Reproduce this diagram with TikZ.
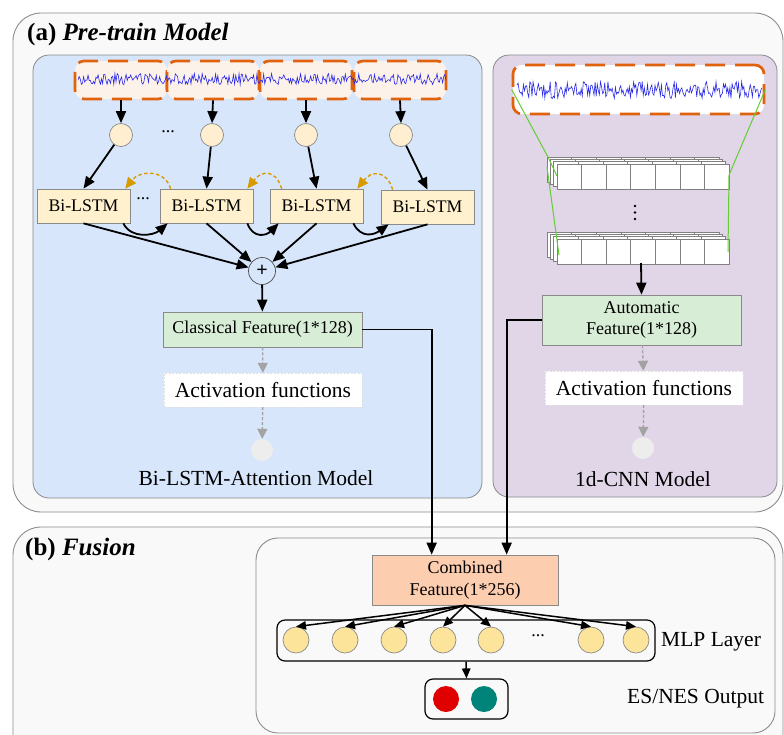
\documentclass[tikz,border=0pt]{standalone}
\usepackage{fontspec}
\setmainfont{Liberation Serif}
\usetikzlibrary{arrows.meta,calc}
\definecolor{panelfill}{HTML}{F9F9F9}
\definecolor{paneldraw}{HTML}{8C8C8C}
\definecolor{bluefill}{HTML}{D7E6FA}
\definecolor{purplefill}{HTML}{E1D5E8}
\definecolor{lstmfill}{HTML}{FFF1CE}
\definecolor{incfill}{HTML}{FFEFD0}
\definecolor{featfill}{HTML}{D8EDD6}
\definecolor{combfill}{HTML}{FDCDB0}
\definecolor{mlpfill}{HTML}{FDE49B}
\definecolor{outred}{HTML}{E00000}
\definecolor{outteal}{HTML}{008379}
\definecolor{sigorange}{HTML}{E0620D}
\definecolor{sigfill}{HTML}{FDF2EA}
\definecolor{sigblue}{HTML}{2828E8}
\definecolor{cnngreen}{HTML}{66CC33}
\definecolor{recurr}{HTML}{D79B00}
\definecolor{grayarr}{HTML}{A3A3A3}
\definecolor{boxline}{HTML}{8A8A8A}
\begin{document}
\begin{tikzpicture}[x=1pt,y=-1pt,
 every node/.append style={inner sep=0pt},
 lstm/.style={draw=boxline, fill=lstmfill, line width=0.7pt, minimum width=93pt, minimum height=34pt, font=\fontsize{17.7}{20}\selectfont},
 inc/.style={circle, draw=boxline, fill=incfill, line width=0.7pt, minimum size=23pt},
 feat/.style={draw=boxline, fill=featfill, line width=0.7pt, font=\fontsize{18}{21.5}\selectfont, align=center, minimum width=199pt},
 actbox/.style={draw=black!12, dash pattern=on 2pt off 1.5pt, fill=white, minimum width=198pt, minimum height=34pt, font=\fontsize{21.5}{24}\selectfont},
 gdot/.style={circle, fill=black!7, minimum size=22pt},
 sigbox/.style={draw=sigorange, line width=2.7pt, dash pattern=on 20pt off 10pt, rounded corners=9pt, fill=sigfill, minimum width=92pt, minimum height=38pt},
 arr/.style={-{Triangle[length=12pt,width=10pt]}, line width=1.8pt},
 sarr/.style={-{Triangle[length=10pt,width=8.5pt]}, line width=1.5pt},
 garr/.style={-{Triangle[length=10pt,width=10pt]}, draw=grayarr, line width=1.4pt, dash pattern=on 3pt off 2pt},
 rarr/.style={-{Triangle[length=11pt,width=10pt]}, draw=recurr, line width=1.4pt, dash pattern=on 3.5pt off 2.5pt},
 mlpc/.style={circle, draw=boxline, fill=mlpfill, minimum size=26pt, line width=0.7pt},
 lbl/.style={font=\fontsize{21.5}{24}\selectfont},
 ttl/.style={font=\fontsize{25}{28}\selectfont\bfseries}
]
\clip (0,0) rectangle (784,734);
\fill[white] (0,0) rectangle (784,734);
\pgfmathsetseed{7}

% panels
\draw[draw=paneldraw, fill=panelfill, line width=0.9pt, rounded corners=28pt] (13,13) rectangle (783,512);
\draw[draw=paneldraw, fill=panelfill, line width=0.9pt, rounded corners=28pt] (13,527) rectangle (783,780);
\draw[draw=boxline, fill=bluefill, line width=0.8pt, rounded corners=16pt] (33,55) rectangle (482,498);
\draw[draw=boxline, fill=purplefill, line width=0.8pt, rounded corners=16pt] (493,55) rectangle (777,497);
\draw[draw=paneldraw, fill=panelfill, line width=0.9pt, rounded corners=22pt] (256,538) rectangle (775,733);

\node[ttl, anchor=west] (ta) at (27,34) {(a) \textit{Pre-train Model}};
\node[ttl, anchor=west] (tb) at (25,549) {(b) \textit{Fusion}};

% left signals
\foreach \xx [count=\i] in {121,213,306,400}
  \node[sigbox] (sig\i) at (\xx,80) {};
\draw[sigblue, line width=0.6pt] plot[domain=78:446, samples=330] (\x, {79 + 5.5*rand});

% input circles
\foreach \xx [count=\i] in {121,212,306,401}
  \node[inc] (in\i) at (\xx,135) {};
\node[font=\fontsize{18}{20}\selectfont] (dA) at (168,132) {...};
\foreach \i in {1,...,4}
  \draw[arr] (sig\i.south) -- (in\i.north);

% Bi-LSTM boxes
\node[lstm] (b1) at (83.5,206) {Bi-LSTM};
\node[lstm] (b2) at (206.5,206) {Bi-LSTM};
\node[lstm] (b3) at (316.5,206) {Bi-LSTM};
\node[lstm] (b4) at (427.5,207) {Bi-LSTM};
\node[font=\fontsize{18}{20}\selectfont] (dB) at (143,199) {...};
\foreach \i in {1,...,4}
  \draw[arr] (in\i) -- (b\i.north);

% recurrent dashed arrows
\draw[rarr] ($(b2.north west)+(11,0)$) .. controls +(-6,-20) and +(14,-18) .. ($(b1.north east)+(-5,0)$);
\draw[rarr] ($(b3.north west)+(12,0)$) .. controls +(-6,-20) and +(14,-18) .. ($(b2.north east)+(-6,0)$);
\draw[rarr] ($(b4.north west)+(12,0)$) .. controls +(-6,-20) and +(14,-18) .. ($(b3.north east)+(-6,0)$);

% plus
\node[circle, draw=black!70, line width=0.7pt, minimum size=27pt, font=\fontsize{20}{20}\selectfont\bfseries] (plus) at (262,271) {+};
\foreach \i in {1,...,4}
  \draw[arr] (b\i.south) -- (plus);

% forward curved arrows
\draw[arr] ($(b1.south east)+(-7,0)$) .. controls +(8,16) and +(-14,12) .. ($(b2.south west)+(8,0)$);
\draw[arr] ($(b2.south east)+(-6,0)$) .. controls +(6,16) and +(-12,12) .. ($(b3.south west)+(9,0)$);
\draw[arr] ($(b3.south east)+(-10,0)$) .. controls +(8,16) and +(-14,10) .. ($(b4.south west)+(8,0)$);

% classical
\node[feat, minimum height=35pt] (cls) at (262.5,329.5) {Classical Feature(1*128)};
\draw[arr] (plus) -- (cls);
\node[actbox] (act1) at (263,390) {Activation functions};
\node[gdot] (g1) at (262,450) {};
\draw[garr] (cls) -- (act1);
\draw[garr] (act1) -- (g1);
\node[lbl] (lA) at (256,478) {Bi-LSTM-Attention Model};

% right signal
\node[draw=sigorange, line width=2.7pt, dash pattern=on 20pt off 10pt, rounded corners=9pt, fill=white, minimum width=251pt, minimum height=49pt] (sig5) at (638.5,89.5) {};
\draw[sigblue, line width=0.6pt] plot[domain=517:762, samples=230] (\x, {90 + 8.5*rand});

% CNN stacks
\foreach \sy in {164,239} {
  \foreach \k in {3,2,1,0} {
    \foreach \c in {0,...,6} {
      \draw[draw=black!50, fill=white, line width=0.6pt] ({557-3.3*\k+24.57*\c},{\sy-2.4*\k}) rectangle ++(24.57,25);
    }
  }
}
\foreach \yy in {206,212.5,219}
  \fill (635,\yy) circle (1.4pt);
\coordinate (gL1) at (548,157);
\coordinate (gL2) at (557,176);
\coordinate (gL3) at (547,167);
\coordinate (gL4) at (559,255);
\coordinate (gR1) at (729,175);
\coordinate (gR2) at (728,252);
\draw[cnngreen, line width=1pt] (sig5.west) -- (gL1) -- (gL2);
\draw[cnngreen, line width=1pt] (gL3) -- (gL4);
\draw[cnngreen, line width=1pt] (sig5.east) -- (gR1) -- (gR2);

\node[feat, minimum height=50pt] (auto) at (641.5,320) {Automatic\\Feature(1*128)};
\coordinate (cnnout) at (641,263);
\draw[arr] (cnnout) -- (auto.north);
\node[actbox] (act2) at (644,388) {Activation functions};
\node[gdot] (g2) at (643,448) {};
\draw[garr] (auto) -- (act2);
\draw[garr] (act2) -- (g2);
\node[lbl] (lB) at (643,479) {1d-CNN Model};

% fusion
\node[draw=boxline, fill=combfill, line width=0.7pt, minimum width=186pt, minimum height=50pt, align=center, font=\fontsize{18}{22}\selectfont] (comb) at (465,580) {Combined\\Feature(1*256)};
\draw[arr] (cls.east) -| ($(comb.north west)+(60,0)$);
\draw[arr] (auto.west) -| ($(comb.north west)+(135,0)$);

\node[draw=black, line width=1.2pt, rounded corners=8pt, minimum width=378pt, minimum height=41pt] (mlpbox) at (466,640.5) {};
\foreach \xx [count=\i] in {296,345,394,443,491,591,636}
  \node[mlpc] (m\i) at (\xx,640) {};
\node[font=\fontsize{18}{20}\selectfont] (dC) at (538,636) {...};
\foreach \i in {1,...,7}
  \draw[sarr] (comb.south) -- (m\i.north);
\node[lbl, anchor=west] (lM) at (661,642) {MLP Layer};

\node[draw=black, line width=1.2pt, rounded corners=8pt, minimum width=83pt, minimum height=40pt] (outbox) at (466.5,699) {};
\node[circle, fill=outred, minimum size=26pt] (ored) at (446,699) {};
\node[circle, fill=outteal, minimum size=26pt] (oteal) at (484,699) {};
\draw[sarr] (mlpbox.south) -- (outbox.north);
\node[lbl, anchor=west] (lO) at (627,699) {ES/NES Output};
\end{tikzpicture}
\end{document}
